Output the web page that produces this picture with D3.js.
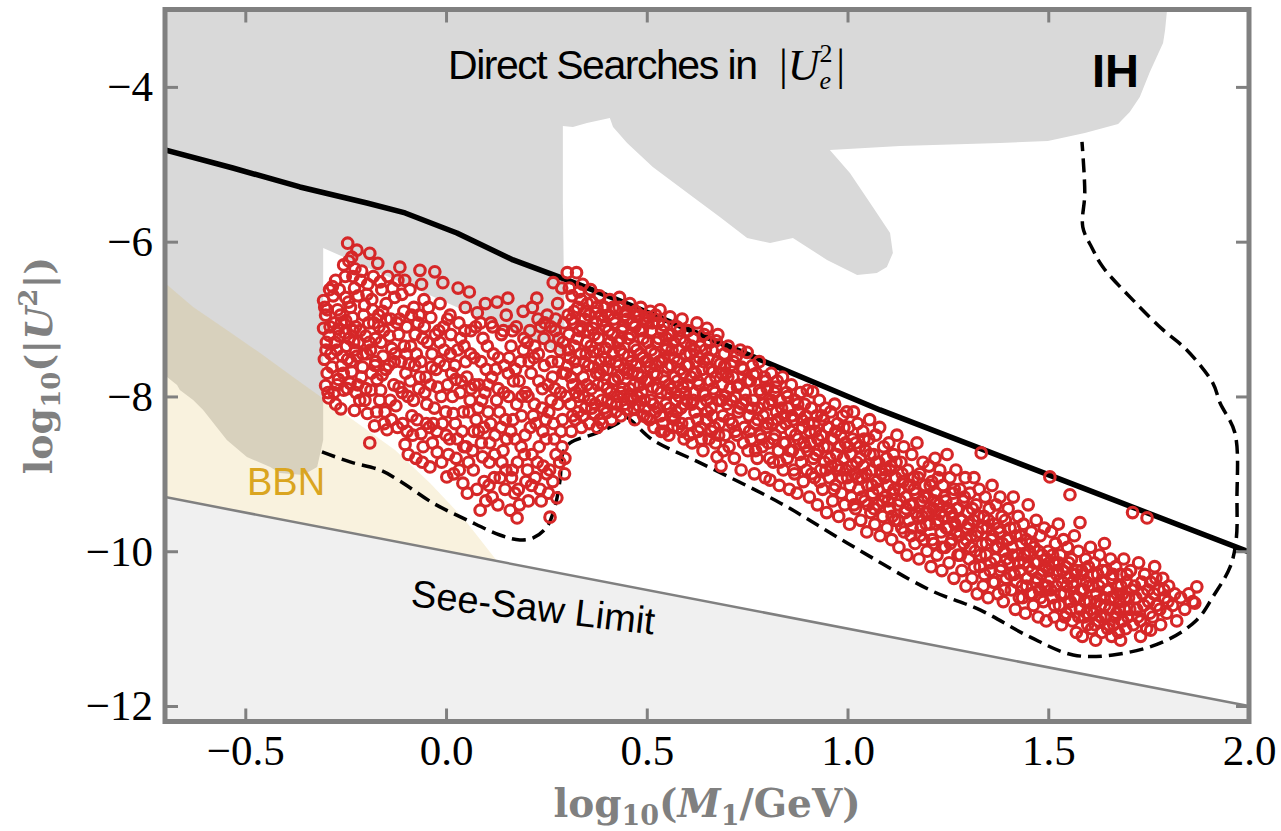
<!DOCTYPE html>
<html lang="en">
<head>
<meta charset="UTF-8" />
<title>IH parameter space</title>
<script src="https://d3js.org/d3.v7.min.js"></script>
<style>
  body { margin: 0; background: #fff; }
  svg { display: block; }
  .tick text { font-family: "Liberation Serif", serif; font-size: 43px; fill: #000; }
</style>
</head>
<body>
<svg id="chart" width="1281" height="831"></svg>
<script>
// axis ticks
const xTicks = [-0.5, 0, 0.5, 1, 1.5, 2];
const yTicks = [-12, -10, -8, -6, -4];

// see-saw limit line (log10 U^2 vs log10 M)
const seesawLimit = [[-0.7, -9.3], [2.0, -12.0]];

// direct search exclusion (grey)
const directSearch = [
  [-0.7, -3.0], [1.796, -3.0], [1.791, -3.265], [1.786, -3.433], [1.753, -3.807],
  [1.728, -4.13], [1.703, -4.324], [1.674, -4.479], [1.591, -4.596], [1.499, -4.699],
  [1.38, -4.725], [1.131, -4.764], [0.956, -4.815], [1.006, -5.113], [1.063, -5.552],
  [1.106, -5.888], [1.113, -6.146], [1.098, -6.327], [1.073, -6.404], [1.024, -6.43],
  [0.949, -6.236], [0.864, -5.952], [0.807, -6.017], [0.75, -5.952], [0.682, -5.681],
  [0.615, -5.423], [0.515, -5.035], [0.451, -4.725], [0.416, -4.518], [0.408, -4.402],
  [0.351, -4.466], [0.316, -4.518], [0.291, -4.505], [0.291, -5.5], [0.296, -7.465],
  [-0.306, -6.081], [-0.306, -8.562], [-0.321, -8.911], [-0.356, -9.014], [-0.414, -8.988],
  [-0.438, -8.911], [-0.496, -8.782], [-0.546, -8.562], [-0.605, -8.176], [-0.63, -8.047],
  [-0.663, -7.917], [-0.67, -7.853], [-0.695, -7.749], [-0.7, -7.72]
];

// BBN exclusion (drawn translucent)
const bbnRegion = [
  [-0.7, -6.534], [-0.63, -6.844], [-0.546, -7.142], [-0.463, -7.439], [-0.381, -7.749],
  [-0.301, -8.047], [-0.214, -8.368], [-0.127, -8.691], [-0.04, -9.118], [0.047, -9.596],
  [0.127, -10.127], [-0.7, -9.3]
];

// solid upper bound
const upperBound = [
  [-0.7, -4.815], [-0.531, -5.048], [-0.364, -5.293], [-0.197, -5.5], [-0.102, -5.629],
  [0.027, -5.888], [0.167, -6.236], [0.301, -6.494], [0.416, -6.727], [1.081, -8.174],
  [1.579, -9.169], [2.0, -10.009]
];

// dashed IH contour
const ihContour = [
  [-0.309, -8.717], [-0.239, -8.846], [-0.165, -8.95], [-0.115, -9.092], [-0.033, -9.376],
  [0.052, -9.596], [0.134, -9.79], [0.184, -9.854], [0.217, -9.828], [0.251, -9.686],
  [0.271, -9.428], [0.284, -9.079], [0.291, -8.73], [0.309, -8.601], [0.376, -8.472],
  [0.433, -8.33], [0.446, -8.265], [0.515, -8.562], [0.633, -8.859], [0.832, -9.376],
  [0.999, -9.893], [1.205, -10.5], [1.33, -10.758], [1.454, -11.107], [1.562, -11.34],
  [1.661, -11.34], [1.786, -11.172], [1.87, -10.888], [1.91, -10.59], [1.953, -10.203],
  [1.968, -9.854], [1.97, -9.337], [1.965, -8.472], [1.928, -8.085], [1.91, -7.827],
  [1.845, -7.4], [1.786, -7.14], [1.711, -6.755], [1.636, -6.327], [1.609, -6.081],
  [1.586, -5.81], [1.591, -5.371], [1.584, -4.712]
];

// scan points
const scanPoints = [
  [-0.305,-6.76],[-0.30,-6.95],[-0.305,-7.12],[-0.298,-7.30],[-0.303,-7.52],[-0.296,-7.70],[-0.30,-7.86],[-0.292,-8.02],[-0.287,-7.45],[-0.29,-6.62],
  [-0.275,-6.50],[-0.27,-6.88],[-0.278,-7.05],[-0.265,-7.22],[-0.272,-7.40],[-0.26,-7.60],[-0.268,-7.78],[-0.275,-8.10],[-0.262,-8.16],[-0.255,-6.30],[-0.25,-6.72],[-0.245,-6.02],[-0.25,-7.02],[-0.248,-7.35],[-0.255,-7.92],[-0.245,-7.52],
  [-0.235,-6.20],[-0.232,-6.45],[-0.228,-6.60],[-0.238,-6.85],[-0.225,-7.10],[-0.222,-6.11],[-0.23,-7.30],[-0.222,-7.48],[-0.235,-7.68],[-0.22,-7.85],[-0.228,-8.18],[-0.215,-8.05],[-0.21,-6.38],[-0.205,-6.95],[-0.2,-7.22],[-0.208,-7.62],[-0.19,-6.15],[-0.195,-6.55],[-0.2,-7.90],[-0.196,-8.22],
  [-0.185,-6.75],[-0.18,-7.05],[-0.188,-7.40],[-0.175,-7.55],[-0.17,-6.28],[-0.172,-7.78],[-0.165,-8.05],[-0.19,-8.60],[-0.178,-8.38],[-0.16,-6.62],[-0.158,-6.90],[-0.155,-7.15],[-0.162,-7.30],[-0.15,-7.65],[-0.152,-8.20],[-0.147,-8.43],[-0.145,-6.45],
  [-0.138,-7.00],[-0.135,-7.38],[-0.13,-7.85],[-0.128,-6.72],[-0.125,-8.12],[-0.12,-6.50],[-0.118,-7.20],[-0.115,-6.33],[-0.112,-7.55],[-0.108,-8.35],[-0.105,-6.90],[-0.1,-7.70],[-0.102,-8.62],[-0.098,-7.10],[-0.095,-8.00],
  [-0.09,-6.62],[-0.088,-7.35],[-0.085,-8.25],[-0.08,-6.85],[-0.078,-7.60],[-0.075,-8.80],[-0.07,-7.05],[-0.068,-7.90],[-0.065,-6.37],[-0.062,-8.48],[-0.058,-7.25],[-0.057,-8.65],[-0.055,-6.75],[-0.05,-7.75],[-0.048,-8.10],
  [-0.04,-8.91],[-0.038,-6.98],[-0.035,-7.45],[-0.032,-8.35],[-0.028,-6.39],[-0.025,-7.65],[-0.022,-8.72],[-0.018,-7.15],[-0.015,-6.80],[-0.012,-8.00],[-0.008,-6.53],[-0.005,-7.40],[0.0,-8.50],[0.002,-9.04],[0.004,-7.85],
  [0.01,-6.95],[0.012,-7.20],[0.018,-8.22],[0.022,-7.60],[0.025,-8.80],[0.03,-6.60],[0.032,-7.05],[0.035,-7.95],[0.04,-8.45],[0.042,-9.12],[0.045,-7.35],[0.048,-6.85],[0.05,-8.65],[0.052,-7.75],
  [0.058,-6.65],[0.06,-8.05],[0.062,-7.15],[0.068,-8.95],[0.07,-7.50],[0.075,-8.30],[0.078,-6.92],[0.082,-7.85],[0.085,-9.47],[0.088,-8.60],[0.092,-7.25],[0.095,-9.10],[0.098,-6.80],[0.1,-7.65],
  [0.105,-8.20],[0.108,-8.85],[0.112,-7.05],[0.115,-9.30],[0.118,-7.45],[0.122,-8.50],[0.127,-6.78],[0.13,-7.90],[0.135,-9.05],[0.138,-7.20],[0.142,-8.70],[0.145,-7.60],[0.148,-8.30],[0.15,-6.95],
  [0.154,-6.73],[0.156,-8.00],[0.16,-9.47],[0.162,-7.35],[0.165,-8.95],[0.168,-7.80],[0.172,-8.55],[0.175,-7.10],[0.177,-9.57],[0.18,-9.20],[0.185,-7.55],[0.188,-8.25],[0.192,-6.90],[0.195,-8.75],[0.198,-7.95],
  [0.202,-7.30],[0.205,-9.35],[0.21,-8.40],[0.212,-7.70],[0.215,-6.85],[0.22,-8.10],[0.222,-9.05],[0.226,-6.73],[0.23,-7.45],[0.232,-8.65],[0.236,-7.10],[0.24,-7.90],[0.242,-8.90],[0.245,-7.60],[0.248,-8.30],
  [0.252,-6.95],[0.255,-9.25],[0.259,-9.56],[0.26,-7.35],[0.262,-8.05],[0.265,-7.75],[0.267,-6.53],[0.27,-8.55],[0.272,-7.15],[0.276,-9.31],[0.278,-6.80],[0.28,-7.55],[0.283,-8.85],[0.285,-7.95],[0.288,-6.60],[0.29,-8.30],[0.292,-7.30],[0.295,-9.00],[0.298,-7.70],
  [0.302,-6.40],[0.304,-6.95],[0.306,-7.20],[0.308,-7.50],[0.31,-8.10],[0.312,-8.45],[0.314,-6.70],[0.316,-7.85],[0.318,-7.05],[0.32,-7.35],[0.322,-8.30],[0.325,-6.40],[0.326,-7.65],[0.328,-6.85],[0.33,-8.00],[0.332,-7.15],[0.335,-7.45],[0.337,-8.40],[0.34,-6.55],[0.342,-7.75],[0.345,-7.00],[0.347,-8.15],[0.35,-7.30],[0.352,-6.80],[0.355,-7.60],[0.357,-8.35],
  [0.36,-6.62],[0.362,-7.90],[0.365,-7.12],[0.367,-7.42],[0.37,-8.22],[0.372,-6.92],[0.375,-7.70],[0.377,-8.40],[0.38,-7.25],[0.382,-6.70],[0.385,-7.55],[0.388,-8.05],[0.39,-7.02],[0.392,-7.85],[0.395,-6.85],[0.398,-7.38],[0.40,-8.21],[0.402,-7.65],[0.405,-7.15],[0.408,-6.75],[0.41,-7.95],[0.412,-8.30],[0.415,-7.45],[0.418,-7.00],
  [0.42,-7.78],[0.422,-6.88],[0.425,-8.10],[0.428,-7.30],[0.43,-7.60],[0.432,-6.72],[0.435,-8.25],[0.438,-7.15],[0.44,-7.90],[0.442,-7.45],[0.445,-6.95],[0.45,-8.17],[0.452,-7.70],[0.455,-7.25],[0.458,-6.80],[0.46,-8.00],[0.462,-7.55],[0.465,-7.05],[0.468,-7.85],[0.47,-8.30],[0.472,-6.90],[0.475,-7.40],[0.478,-7.70],[0.48,-8.12],[0.482,-7.15],[0.485,-6.85],[0.488,-7.95],[0.49,-7.50],[0.492,-8.25],[0.495,-7.00],[0.498,-7.80],
  [0.50,-8.27],[0.502,-7.30],[0.505,-6.98],[0.508,-7.62],[0.51,-8.05],[0.512,-7.15],[0.515,-7.88],[0.518,-8.40],[0.52,-7.45],[0.522,-6.95],[0.525,-7.72],[0.528,-8.15],[0.53,-7.25],[0.533,-6.88],[0.535,-7.95],[0.538,-7.55],[0.54,-8.35],[0.542,-7.08],[0.545,-7.80],[0.548,-8.10],[0.55,-7.35],[0.552,-7.62],[0.555,-8.50],[0.558,-6.97],[0.56,-7.90],[0.562,-7.20],[0.565,-8.25],[0.568,-7.50],[0.57,-7.75],[0.572,-8.05],[0.575,-7.10],[0.578,-8.40],[0.58,-7.40],[0.583,-7.65],[0.585,-8.15],[0.588,-7.00],[0.59,-7.88],[0.593,-8.55],[0.595,-7.30],[0.598,-7.60],
  [0.60,-8.05],[0.603,-7.15],[0.605,-8.35],[0.608,-7.45],[0.61,-7.75],[0.613,-8.60],[0.615,-7.25],[0.618,-7.95],[0.62,-8.20],[0.623,-7.55],[0.625,-7.05],[0.628,-8.45],[0.63,-7.85],[0.633,-7.35],[0.635,-8.10],[0.638,-7.65],[0.64,-8.70],[0.643,-7.20],[0.645,-7.98],[0.648,-8.30],[0.65,-7.12],[0.653,-7.50],[0.655,-8.55],[0.658,-7.80],[0.66,-8.15],[0.663,-7.40],[0.665,-7.68],[0.668,-8.40],[0.67,-7.95],[0.673,-7.28],[0.675,-8.78],[0.677,-7.20],[0.68,-8.05],[0.683,-7.58],[0.685,-8.90],[0.688,-7.85],[0.69,-8.25],[0.693,-7.45],[0.695,-8.50],[0.698,-7.70],
  [0.70,-8.10],[0.703,-7.35],[0.705,-8.65],[0.708,-7.90],[0.71,-7.60],[0.713,-8.35],[0.715,-7.75],[0.718,-8.80],[0.72,-8.00],[0.723,-7.48],[0.725,-8.50],[0.728,-8.20],[0.73,-7.85],[0.733,-7.40],[0.735,-8.95],[0.738,-8.10],[0.74,-7.65],[0.743,-8.40],[0.745,-7.95],[0.75,-7.43],[0.752,-8.70],[0.755,-8.25],[0.758,-7.80],[0.76,-8.55],[0.763,-7.60],[0.765,-8.05],[0.768,-9.00],[0.77,-8.35],[0.773,-7.70],[0.775,-8.80],[0.778,-8.15],[0.78,-7.55],[0.783,-8.50],[0.785,-7.95],[0.788,-8.65],[0.79,-8.25],[0.793,-7.75],[0.795,-9.05],[0.798,-8.40],[0.80,-7.90],
  [0.803,-8.60],[0.805,-8.10],[0.807,-9.08],[0.81,-7.70],[0.813,-8.35],[0.815,-8.85],[0.818,-7.95],[0.82,-8.50],[0.823,-8.20],[0.825,-7.80],[0.828,-8.70],[0.83,-9.15],[0.832,-8.05],[0.835,-8.40],[0.838,-7.75],[0.84,-8.95],[0.843,-8.25],[0.845,-8.60],[0.848,-7.95],[0.85,-8.80],[0.853,-8.15],[0.855,-9.20],[0.858,-8.45],[0.86,-7.85],[0.863,-8.70],[0.865,-8.30],[0.868,-9.00],[0.87,-8.05],[0.874,-9.25],[0.877,-8.55],[0.88,-8.20],[0.883,-7.95],[0.885,-8.85],[0.888,-8.40],[0.89,-9.10],[0.893,-8.10],[0.895,-8.65],[0.898,-8.95],
  [0.90,-7.92],[0.903,-8.35],[0.905,-9.30],[0.908,-8.60],[0.91,-8.15],[0.913,-7.94],[0.915,-8.80],[0.918,-9.05],[0.92,-8.45],[0.923,-8.25],[0.925,-9.40],[0.928,-8.70],[0.93,-8.05],[0.933,-8.95],[0.935,-8.50],[0.938,-9.20],[0.94,-8.30],[0.943,-8.85],[0.945,-8.15],[0.948,-9.50],[0.95,-8.65],[0.953,-8.40],[0.955,-9.05],[0.958,-8.20],[0.96,-8.90],[0.963,-9.35],[0.965,-8.55],[0.968,-8.10],[0.97,-9.15],[0.973,-8.75],[0.975,-8.35],[0.978,-9.55],[0.98,-8.95],[0.983,-8.50],[0.985,-9.25],[0.988,-8.25],[0.99,-8.80],[0.993,-9.40],[0.995,-8.60],[0.998,-8.20],
  [1.0,-9.05],[1.003,-8.40],[1.005,-9.65],[1.008,-8.75],[1.01,-9.30],[1.013,-8.55],[1.015,-8.20],[1.018,-9.00],[1.02,-9.45],[1.023,-8.85],[1.025,-8.35],[1.028,-9.20],[1.03,-8.65],[1.033,-9.60],[1.035,-9.05],[1.038,-8.45],[1.04,-8.90],[1.043,-9.35],[1.045,-8.70],[1.048,-9.75],[1.05,-9.15],[1.053,-8.55],[1.055,-8.30],[1.058,-9.50],[1.06,-8.95],[1.063,-9.25],[1.065,-8.75],[1.068,-9.65],[1.07,-8.50],[1.073,-9.10],[1.075,-9.40],[1.078,-8.85],[1.08,-8.40],[1.081,-9.80],[1.085,-9.00],[1.088,-9.55],[1.09,-8.65],[1.093,-9.30],[1.095,-8.95],[1.098,-9.70],
  [1.10,-9.15],[1.103,-8.60],[1.105,-9.45],[1.108,-8.90],[1.11,-9.85],[1.113,-9.25],[1.115,-8.75],[1.118,-9.60],[1.12,-9.05],[1.123,-8.50],[1.125,-9.40],[1.128,-9.95],[1.13,-9.20],[1.133,-8.85],[1.135,-9.70],[1.138,-9.10],[1.14,-8.65],[1.143,-9.50],[1.145,-9.30],[1.148,-10.05],[1.15,-8.95],[1.153,-9.60],[1.155,-9.15],[1.158,-9.80],[1.16,-8.75],[1.163,-9.40],[1.165,-9.05],[1.168,-9.90],[1.17,-9.25],[1.173,-8.60],[1.175,-9.55],[1.178,-10.10],[1.18,-9.00],[1.183,-9.70],[1.185,-9.35],[1.188,-8.85],[1.19,-9.85],[1.193,-9.15],[1.195,-9.50],[1.198,-10.00],
  [1.20,-9.30],[1.203,-8.90],[1.205,-9.65],[1.208,-10.20],[1.21,-9.10],[1.213,-9.45],[1.215,-9.90],[1.218,-8.80],[1.22,-9.25],[1.223,-10.05],[1.225,-9.60],[1.228,-9.40],[1.23,-8.95],[1.233,-9.75],[1.235,-10.25],[1.238,-9.15],[1.24,-9.55],[1.243,-9.95],[1.245,-9.35],[1.248,-8.75],[1.25,-9.70],[1.253,-10.15],[1.255,-9.05],[1.258,-9.50],[1.26,-9.85],[1.263,-9.25],[1.265,-10.35],[1.268,-9.65],[1.27,-8.95],[1.273,-9.45],[1.275,-10.05],[1.278,-9.80],[1.28,-9.20],[1.283,-9.60],[1.285,-10.25],[1.288,-9.35],[1.29,-9.90],[1.293,-9.05],[1.295,-10.45],[1.298,-9.70],
  [1.30,-9.50],[1.303,-10.10],[1.305,-9.25],[1.308,-9.80],[1.31,-10.35],[1.313,-9.60],[1.315,-9.05],[1.318,-10.00],[1.32,-9.40],[1.323,-10.55],[1.325,-9.75],[1.328,-9.20],[1.33,-10.20],[1.333,-8.73],[1.335,-9.90],[1.338,-10.45],[1.34,-9.55],[1.343,-9.30],[1.345,-10.05],[1.348,-9.70],[1.35,-10.60],[1.353,-9.45],[1.355,-10.25],[1.358,-9.85],[1.36,-9.15],[1.363,-10.40],[1.365,-9.65],[1.368,-10.10],[1.37,-9.40],[1.373,-9.95],[1.375,-10.55],[1.378,-9.75],[1.38,-9.30],[1.383,-10.20],[1.385,-9.55],[1.388,-10.65],[1.39,-10.00],[1.393,-9.60],[1.395,-10.35],[1.398,-9.85],
  [1.40,-9.45],[1.403,-10.15],[1.405,-9.70],[1.408,-10.50],[1.41,-9.95],[1.413,-9.30],[1.415,-10.30],[1.418,-10.75],[1.42,-9.80],[1.423,-10.05],[1.425,-9.55],[1.428,-10.60],[1.43,-10.25],[1.433,-9.90],[1.435,-10.45],[1.438,-9.65],[1.44,-10.15],[1.443,-10.80],[1.445,-9.85],[1.448,-10.35],[1.45,-9.40],[1.453,-10.00],[1.455,-10.55],[1.458,-9.75],[1.46,-10.25],[1.463,-10.70],[1.465,-9.95],[1.468,-10.40],[1.47,-9.60],[1.473,-10.15],[1.475,-10.85],[1.478,-10.50],[1.48,-9.80],[1.483,-10.30],[1.485,-10.05],[1.488,-10.65],[1.49,-9.70],[1.493,-10.20],[1.495,-10.90],[1.498,-10.45],
  [1.50,-10.00],[1.504,-9.04],[1.505,-10.35],[1.508,-9.75],[1.51,-10.60],[1.513,-10.15],[1.515,-10.85],[1.518,-9.90],[1.52,-10.45],[1.523,-10.25],[1.525,-9.65],[1.528,-10.70],[1.53,-10.05],[1.533,-10.95],[1.535,-10.40],[1.538,-9.85],[1.54,-10.55],[1.543,-10.20],[1.545,-10.80],[1.548,-9.95],[1.55,-10.35],[1.554,-9.27],[1.555,-10.65],[1.558,-10.10],[1.56,-10.90],[1.563,-10.45],[1.565,-9.80],[1.568,-10.30],[1.57,-11.05],[1.573,-10.60],[1.575,-10.00],[1.579,-9.63],[1.58,-10.75],[1.583,-10.25],[1.585,-11.10],[1.588,-10.50],[1.59,-10.85],[1.593,-10.10],[1.595,-10.40],[1.598,-10.95],
  [1.60,-10.20],[1.603,-10.65],[1.605,-9.95],[1.608,-11.00],[1.61,-10.45],[1.613,-10.80],[1.615,-10.15],[1.618,-11.15],[1.62,-10.55],[1.623,-10.30],[1.625,-10.90],[1.628,-10.05],[1.63,-10.70],[1.633,-11.05],[1.635,-10.40],[1.638,-10.60],[1.64,-9.90],[1.643,-10.85],[1.645,-10.25],[1.648,-11.00],[1.65,-10.50],[1.653,-10.75],[1.655,-10.10],[1.658,-11.10],[1.66,-10.35],[1.663,-10.95],[1.665,-10.60],[1.668,-10.20],[1.67,-10.80],[1.673,-10.45],[1.675,-11.05],[1.678,-10.65],[1.68,-10.30],[1.683,-10.90],[1.685,-10.55],[1.688,-10.10],[1.69,-10.75],[1.693,-11.00],[1.695,-10.40],[1.698,-10.85],
  [1.70,-10.60],[1.705,-10.25],[1.71,-9.50],[1.712,-10.95],[1.715,-10.45],[1.72,-10.75],[1.725,-10.15],[1.73,-10.90],[1.735,-10.55],[1.74,-10.30],[1.745,-11.00],[1.746,-9.57],[1.75,-10.65],[1.755,-10.40],[1.76,-10.85],[1.765,-10.20],[1.77,-10.70],[1.775,-10.50],[1.78,-10.95],[1.785,-10.35],[1.79,-10.60],[1.795,-10.80],[1.80,-10.45],[1.81,-10.70],[1.815,-10.55],[1.82,-10.90],[1.83,-10.60],[1.84,-10.75],[1.85,-10.55],[1.86,-10.65],[1.87,-10.46],[1.865,-10.67],[1.755,-11.02],[1.73,-11.10],[1.68,-11.15]
];

// second pass of points read from the denser parts of the cloud
const scanPointsDense = [
  [-0.296,-6.88],[-0.291,-7.21],[-0.284,-7.62],[-0.281,-6.70],[-0.279,-7.95],[-0.269,-7.13],[-0.263,-6.95],[-0.258,-7.48],[-0.252,-7.18],[-0.243,-6.78],[-0.241,-7.25],[-0.239,-7.83],[-0.233,-6.98],[-0.226,-7.40],[-0.219,-6.70],[-0.214,-7.15],[-0.211,-7.75],[-0.203,-6.82],[-0.198,-7.45],[-0.193,-7.05],[-0.186,-7.70],[-0.181,-6.45],[-0.176,-7.25],[-0.168,-6.95],[-0.163,-7.92],[-0.157,-7.48],[-0.149,-6.80],[-0.141,-7.22],[-0.136,-8.30],[-0.129,-7.55],[-0.122,-7.05],[-0.117,-7.88],[-0.11,-6.68],[-0.104,-7.35],[-0.097,-8.45],[-0.092,-7.58],[-0.086,-6.95],[-0.081,-8.05],[-0.074,-7.45],[-0.066,-7.75],[-0.061,-6.55],[-0.053,-7.95],[-0.046,-7.30],[-0.042,-8.40],[-0.036,-7.62],[-0.029,-8.15],[-0.021,-7.88],[-0.016,-7.30],[-0.009,-8.35],[-0.003,-7.60],
  [0.006,-8.75],[0.011,-7.45],[0.016,-8.00],[0.024,-7.78],[0.028,-8.55],[0.036,-7.25],[0.043,-8.20],[0.049,-7.55],[0.056,-8.85],[0.063,-7.90],[0.069,-8.45],[0.074,-7.10],[0.08,-8.15],[0.087,-7.55],[0.091,-8.78],[0.097,-7.95],[0.103,-7.35],[0.109,-8.60],[0.114,-7.75],[0.12,-9.05],[0.126,-8.05],[0.131,-7.50],[0.137,-8.40],[0.143,-7.15],[0.149,-8.95],[0.155,-7.70],[0.161,-8.45],[0.166,-7.15],[0.171,-9.25],[0.176,-8.10],[0.182,-7.80],[0.187,-8.65],[0.193,-7.40],[0.199,-9.10],[0.204,-8.00],[0.209,-7.15],[0.214,-8.75],[0.219,-7.50],[0.224,-8.35],[0.229,-7.00],[0.234,-9.20],[0.239,-8.15],[0.244,-7.25],[0.249,-8.55],[0.254,-7.85],[0.258,-8.95],[0.263,-7.55],[0.268,-8.35],[0.273,-7.00],[0.279,-8.10],[0.284,-7.40],[0.289,-8.65],[0.294,-7.05],[0.299,-8.00],
  [0.303,-7.60],[0.307,-6.60],[0.311,-7.75],[0.315,-8.25],[0.319,-6.90],[0.323,-7.95],[0.327,-7.25],[0.331,-6.65],[0.334,-7.90],[0.338,-7.10],[0.341,-8.25],[0.344,-7.55],[0.348,-6.90],[0.351,-7.85],[0.354,-7.15],[0.358,-8.05],[0.361,-7.35],[0.364,-6.78],[0.368,-7.62],[0.371,-8.10],[0.374,-7.05],[0.378,-7.85],[0.381,-7.40],[0.384,-8.30],[0.387,-6.95],[0.391,-7.65],[0.394,-8.15],[0.397,-7.10],[0.401,-7.90],[0.404,-6.95],[0.407,-7.55],[0.411,-8.10],[0.414,-7.20],[0.417,-7.80],[0.421,-7.05],[0.424,-7.55],[0.427,-8.00],[0.431,-6.85],[0.434,-7.40],[0.437,-7.95],[0.441,-7.10],[0.444,-7.65],[0.447,-8.10],[0.451,-7.00],[0.454,-7.48],[0.457,-7.90],[0.461,-7.20],[0.464,-7.70],[0.467,-8.15],[0.471,-7.10],[0.474,-7.60],[0.477,-8.00],[0.481,-6.95],[0.484,-7.45],[0.487,-7.75],[0.491,-7.25],[0.494,-8.05],[0.497,-7.55],
  [0.501,-7.05],[0.504,-7.80],[0.507,-8.30],[0.511,-7.40],[0.514,-7.05],[0.517,-7.70],[0.521,-8.20],[0.524,-7.30],[0.527,-7.90],[0.531,-7.55],[0.534,-8.25],[0.537,-7.15],[0.541,-7.75],[0.544,-8.45],[0.547,-7.40],[0.551,-7.95],[0.554,-7.20],[0.557,-8.15],[0.561,-7.60],[0.564,-8.40],[0.567,-7.30],[0.571,-7.95],[0.574,-8.20],[0.577,-7.55],[0.581,-8.00],[0.584,-7.25],[0.587,-8.35],[0.591,-7.70],[0.594,-8.10],[0.597,-7.45],[0.602,-7.85],[0.606,-8.50],[0.611,-7.35],[0.616,-8.05],[0.621,-7.70],[0.626,-8.30],[0.631,-7.50],[0.636,-8.55],[0.641,-7.95],[0.646,-7.40],[0.651,-8.20],[0.656,-7.65],[0.661,-8.45],[0.666,-7.90],[0.671,-8.60],[0.676,-7.55],[0.681,-8.35],[0.686,-7.70],[0.691,-8.70],[0.696,-8.00],
  [0.702,-7.75],[0.706,-8.30],[0.711,-8.05],[0.716,-7.55],[0.721,-8.45],[0.726,-7.88],[0.731,-8.15],[0.736,-7.62],[0.741,-8.60],[0.746,-8.05],[0.751,-7.80],[0.756,-8.45],[0.761,-8.15],[0.766,-7.72],[0.771,-8.70],[0.776,-8.30],[0.781,-7.92],[0.786,-8.55],[0.791,-8.10],[0.796,-7.80],
  [0.801,-8.35],[0.806,-8.80],[0.811,-8.05],[0.816,-8.55],[0.821,-7.88],[0.826,-8.30],[0.831,-8.85],[0.836,-8.15],[0.841,-8.60],[0.846,-8.35],[0.851,-8.00],[0.856,-8.70],[0.861,-8.25],[0.866,-8.95],[0.871,-8.50],[0.876,-8.10],[0.881,-8.75],[0.886,-8.30],[0.891,-8.60],[0.896,-8.25],
  [0.901,-8.70],[0.906,-8.45],[0.911,-9.00],[0.916,-8.35],[0.921,-8.75],[0.926,-8.55],[0.931,-9.10],[0.936,-8.25],[0.941,-8.65],[0.946,-8.95],[0.951,-8.40],[0.956,-8.80],[0.961,-8.55],[0.966,-9.20],[0.971,-8.45],[0.976,-8.90],[0.981,-8.65],[0.986,-9.05],[0.991,-8.40],[0.996,-8.95],
  [1.001,-8.65],[1.006,-9.15],[1.011,-8.90],[1.016,-9.40],[1.021,-8.60],[1.026,-9.05],[1.031,-8.80],[1.036,-9.30],[1.041,-8.55],[1.046,-9.00],[1.051,-9.40],[1.056,-8.75],[1.061,-9.15],[1.066,-9.45],[1.071,-8.85],[1.076,-9.20],[1.082,-8.95],[1.087,-9.35],[1.092,-9.05],[1.097,-8.80],
  [1.101,-9.35],[1.106,-8.95],[1.111,-9.55],[1.116,-9.20],[1.121,-8.85],[1.126,-9.60],[1.131,-9.35],[1.136,-9.00],[1.141,-9.75],[1.146,-9.45],[1.151,-9.15],[1.156,-9.40],[1.161,-9.70],[1.166,-9.20],[1.171,-9.50],[1.176,-9.05],[1.181,-9.80],[1.186,-9.55],[1.191,-9.30],[1.196,-9.65],
  [1.201,-9.50],[1.206,-9.15],[1.211,-9.85],[1.216,-9.35],[1.221,-9.65],[1.226,-9.05],[1.231,-9.50],[1.236,-9.95],[1.241,-9.30],[1.246,-9.70],[1.251,-9.45],[1.256,-9.90],[1.261,-9.55],[1.266,-9.20],[1.271,-9.75],[1.276,-9.45],[1.281,-10.05],[1.286,-9.60],[1.291,-9.30],[1.296,-9.85],
  [1.301,-9.65],[1.306,-9.95],[1.311,-9.45],[1.316,-10.20],[1.321,-9.80],[1.326,-9.55],[1.331,-10.05],[1.336,-9.70],[1.341,-10.30],[1.346,-9.90],[1.351,-9.60],[1.356,-10.15],[1.361,-9.80],[1.366,-10.40],[1.371,-9.95],[1.376,-9.70],[1.381,-10.25],[1.386,-9.90],[1.391,-10.50],[1.396,-10.10],
  [1.401,-9.85],[1.406,-10.30],[1.411,-10.05],[1.416,-9.70],[1.421,-10.40],[1.426,-10.15],[1.431,-9.80],[1.436,-10.60],[1.441,-10.05],[1.446,-10.45],[1.451,-10.20],[1.456,-9.90],[1.461,-10.55],[1.466,-10.15],[1.471,-10.35],[1.476,-10.00],[1.481,-10.60],[1.486,-10.25],[1.491,-10.45],[1.496,-10.10],
  [1.501,-10.25],[1.506,-10.50],[1.511,-10.05],[1.516,-10.70],[1.521,-10.30],[1.526,-10.15],[1.531,-10.55],[1.536,-10.25],[1.541,-10.85],[1.546,-10.45],[1.551,-10.15],[1.556,-10.75],[1.561,-10.40],[1.566,-10.60],[1.571,-10.25],[1.576,-10.85],[1.581,-10.50],[1.586,-10.30],[1.591,-10.65],[1.596,-10.80],
  [1.601,-10.45],[1.606,-10.75],[1.611,-10.30],[1.616,-10.95],[1.621,-10.65],[1.626,-10.45],[1.631,-10.85],[1.636,-10.25],[1.641,-10.70],[1.646,-10.50],[1.651,-10.95],[1.656,-10.60],[1.661,-10.30],[1.666,-10.85],[1.671,-10.55],[1.676,-10.75],[1.681,-10.45],[1.686,-10.90],[1.691,-10.60],[1.696,-10.30],
  [1.703,-10.75],[1.708,-10.50],[1.718,-10.60],[1.723,-10.85],[1.733,-10.40],[1.738,-10.70],[1.748,-10.50],[1.753,-10.80],[1.763,-10.55],[1.768,-10.35],[1.778,-10.75],[1.788,-10.50],[1.798,-10.65]
];

// third pass: left cluster and the knee around M1 ~ 3 GeV
const scanPointsKnee = [
  [-0.302,-6.85],[-0.299,-7.40],[-0.294,-7.95],[-0.289,-7.10],[-0.283,-6.58],[-0.276,-7.30],[-0.271,-7.85],[-0.266,-6.62],[-0.261,-7.05],[-0.256,-7.70],[-0.251,-6.45],[-0.246,-7.90],[-0.242,-6.25],[-0.237,-7.55],[-0.231,-7.15],[-0.227,-6.35],[-0.224,-7.95],[-0.218,-7.30],[-0.213,-6.50],[-0.207,-7.45],[-0.202,-8.05],[-0.197,-6.68],[-0.191,-7.30],[-0.187,-7.92],[-0.183,-6.88],[-0.177,-7.60],[-0.173,-8.20],[-0.167,-7.10],[-0.164,-6.52],[-0.159,-7.72],[-0.154,-8.35],[-0.148,-7.00],[-0.143,-7.60],[-0.139,-8.05],[-0.133,-6.60],[-0.127,-7.45],[-0.121,-8.40],[-0.116,-7.00],[-0.109,-7.95],[-0.103,-6.50],[-0.099,-7.45],[-0.094,-8.75],[-0.089,-7.80],[-0.083,-8.50],[-0.077,-7.20],[-0.072,-8.30],[-0.067,-6.95],[-0.063,-7.55],[-0.059,-8.85],[-0.054,-7.10],[-0.049,-8.35],[-0.044,-6.85],[-0.039,-7.85],[-0.034,-8.60],[-0.027,-7.20],[-0.023,-8.45],[-0.017,-7.55],[-0.011,-8.85],[-0.006,-7.10],[-0.001,-8.20],
  [0.004,-7.00],[0.009,-8.55],[0.014,-7.70],[0.019,-9.00],[0.023,-8.35],[0.029,-7.40],[0.033,-8.95],[0.038,-7.80],[0.044,-8.65],[0.047,-7.15],[0.053,-9.25],[0.057,-8.20],[0.061,-7.45],[0.066,-8.70],[0.071,-7.85],[0.077,-9.20],[0.081,-8.45],[0.086,-7.05],[0.089,-8.05],[0.094,-8.40],[0.099,-9.35],[0.104,-7.85],[0.107,-9.15],[0.111,-8.35],[0.116,-7.10],[0.121,-8.75],[0.124,-7.65],[0.129,-9.40],[0.133,-8.20],[0.139,-8.85],[0.144,-7.95],[0.147,-9.20],[0.151,-8.55],[0.157,-7.50],[0.163,-9.05],[0.167,-8.30],[0.173,-7.65],[0.178,-8.85],[0.183,-9.40],[0.189,-8.00],[0.194,-7.25],[0.197,-8.50],[0.203,-8.95],[0.207,-7.55],[0.213,-9.15],[0.217,-8.25],[0.221,-7.35],[0.227,-8.85],[0.231,-7.80],[0.237,-9.35],[0.241,-8.45],[0.246,-7.05],[0.251,-9.00],[0.256,-8.20],[0.261,-7.10],[0.266,-9.10],[0.271,-7.90],[0.274,-8.75],[0.281,-7.25],[0.286,-8.45],[0.291,-7.70],[0.296,-8.80],
  [0.305,-7.40],[0.313,-7.00],[0.321,-7.55],[0.329,-8.20],[0.336,-6.75],[0.343,-8.00],[0.349,-7.45],[0.356,-6.95],[0.363,-8.15],[0.369,-7.20],[0.376,-6.85],[0.383,-7.70],[0.389,-8.35],[0.396,-7.50],[0.403,-8.05],[0.409,-7.30],[0.416,-6.85],[0.423,-8.20],[0.429,-7.75],[0.436,-7.25],[0.443,-8.00],[0.449,-6.90],[0.456,-7.65],[0.463,-8.05],[0.469,-7.35],[0.476,-6.95],[0.483,-7.85],[0.489,-7.15],[0.496,-8.15],[0.503,-7.55],[0.509,-6.90],[0.516,-8.10],[0.523,-7.60],[0.529,-7.05],[0.536,-8.45],[0.543,-7.50],[0.549,-7.25],[0.556,-7.85],[0.563,-7.40],[0.569,-8.30],[0.576,-7.80],[0.582,-7.15],[0.589,-8.45],[0.596,-7.95],[0.604,-7.60],[0.612,-8.10],[0.619,-7.40],[0.627,-7.80],[0.634,-8.40],[0.642,-7.55],[0.649,-8.05],[0.657,-7.30],[0.664,-8.25],[0.672,-7.75],[0.679,-8.50],[0.687,-8.05],[0.694,-7.60]
];

const svg = d3.select("#chart");
const x = d3.scaleLinear().domain([-0.7, 2.0]).range([165, 1249]);
const y = d3.scaleLinear().domain([-12.2, -3]).range([721.5, 9.5]);
const [x0, x1] = x.range();
const [y0, y1] = y.range();

svg.append("clipPath").attr("id", "plotclip")
  .append("rect").attr("x", x0).attr("y", y1).attr("width", x1 - x0).attr("height", y0 - y1);

const plot = svg.append("g").attr("clip-path", "url(#plotclip)");
const line = d3.line().x(d => x(d[0])).y(d => y(d[1]));

// see-saw forbidden region
const seesawArea = seesawLimit.concat([[2.0, -12.2], [-0.7, -12.2]]);
plot.append("path").attr("d", line(seesawArea) + "Z").attr("fill", "#f0f0f0");

plot.append("path").attr("d", line(directSearch) + "Z").attr("fill", "#d9d9d9");

plot.append("path").attr("d", line(bbnRegion) + "Z")
  .attr("fill", "#daa520").attr("fill-opacity", 0.15);

plot.append("path").attr("d", line(seesawLimit))
  .attr("fill", "none").attr("stroke", "#808080").attr("stroke-width", 2.5);

plot.append("path").attr("d", line(upperBound))
  .attr("fill", "none").attr("stroke", "#000").attr("stroke-width", 5.5)
  .attr("stroke-linejoin", "round");

plot.append("path")
  .attr("d", d3.line().x(d => x(d[0])).y(d => y(d[1])).curve(d3.curveCatmullRom)(ihContour))
  .attr("fill", "none").attr("stroke", "#000").attr("stroke-width", 3.5)
  .attr("stroke-dasharray", "14,7");

const allPoints = scanPoints.concat(scanPointsDense, scanPointsKnee);
plot.selectAll("circle.pt").data(allPoints).enter().append("circle")
  .attr("class", "pt")
  .attr("cx", d => x(d[0])).attr("cy", d => y(d[1])).attr("r", 5.3)
  .attr("fill", "none").attr("stroke", "#d62728").attr("stroke-width", 3.1);

// annotations
const sans = "'Liberation Sans', Arial, sans-serif";
const serif = "'Liberation Serif', serif";

svg.append("text").attr("x", x(0.005)).attr("y", 79)
  .attr("font-family", sans).attr("font-size", 41).attr("fill", "#000")
  .attr("textLength", 310).attr("lengthAdjust", "spacing")
  .text("Direct Searches in");

const mt = svg.append("text").attr("x", 779).attr("y", 80)
  .attr("font-family", serif).attr("font-size", 44).attr("fill", "#000");
mt.append("tspan").text("|");
mt.append("tspan").attr("font-style", "italic").text("U");
mt.append("tspan").attr("font-size", 26).attr("dy", -18).text("2");
mt.append("tspan").attr("font-size", 26).attr("font-style", "italic")
  .attr("dx", -13).attr("dy", 27).text("e");
mt.append("tspan").attr("dx", 5).attr("dy", -9).text("|");

svg.append("text").attr("x", 1092).attr("y", 87)
  .attr("font-family", sans).attr("font-weight", "bold").attr("font-size", 47)
  .text("IH");

svg.append("text").attr("x", 247).attr("y", 495)
  .attr("font-family", sans).attr("font-size", 38).attr("fill", "#daa520")
  .text("BBN");

svg.append("text").attr("transform", "translate(410,606) rotate(6.7)")
  .attr("font-family", sans).attr("font-size", 38).attr("fill", "#000")
  .text("See-Saw Limit");

// axes
const fmt = d => d3.format(".1f")(d).replace("-", "\u2212");
const ax = svg.append("g").attr("transform", `translate(0,${y0})`)
  .call(d3.axisBottom(x).tickValues(xTicks).tickSize(-13).tickPadding(13).tickFormat(fmt));
const ay = svg.append("g").attr("transform", `translate(${x0},0)`)
  .call(d3.axisLeft(y).tickValues(yTicks).tickSize(-13).tickPadding(12)
    .tickFormat(d => String(d).replace("-", "\u2212")));
const axTop = svg.append("g").attr("transform", `translate(0,${y1})`)
  .call(d3.axisTop(x).tickValues(xTicks).tickSize(-13).tickFormat(""));
const ayRight = svg.append("g").attr("transform", `translate(${x1},0)`)
  .call(d3.axisRight(y).tickValues(yTicks).tickSize(-13).tickFormat(""));

[ax, ay, axTop, ayRight].forEach(g => {
  g.select(".domain").remove();
  g.selectAll(".tick line").attr("stroke", "#808080").attr("stroke-width", 3);
});

svg.append("rect").attr("x", x0).attr("y", y1).attr("width", x1 - x0).attr("height", y0 - y1)
  .attr("fill", "none").attr("stroke", "#808080").attr("stroke-width", 5);

// axis labels
const xl = svg.append("text").attr("x", (x0 + x1) / 2).attr("y", 817)
  .attr("text-anchor", "middle").attr("font-family", "'DejaVu Serif', serif")
  .attr("font-weight", "bold").attr("font-size", 39).attr("fill", "#808080");
xl.append("tspan").text("log");
xl.append("tspan").attr("font-size", 27).attr("dy", 8).text("10");
xl.append("tspan").attr("dy", -8).text("(");
xl.append("tspan").attr("font-style", "italic").text("M");
xl.append("tspan").attr("font-size", 27).attr("dy", 8).text("1");
xl.append("tspan").attr("dy", -8).text("/GeV)");

const yl = svg.append("text").attr("transform", `translate(52,${(y0 + y1) / 2}) rotate(-90)`)
  .attr("text-anchor", "middle").attr("font-family", "'DejaVu Serif', serif")
  .attr("font-weight", "bold").attr("font-size", 38).attr("fill", "#808080");
yl.append("tspan").text("log");
yl.append("tspan").attr("font-size", 26).attr("dy", 8).text("10");
yl.append("tspan").attr("dy", -8).text("(|");
yl.append("tspan").attr("font-style", "italic").text("U");
yl.append("tspan").attr("font-size", 26).attr("dy", -15).text("2");
yl.append("tspan").attr("dy", 15).text("|)");
</script>
</body>
</html>
